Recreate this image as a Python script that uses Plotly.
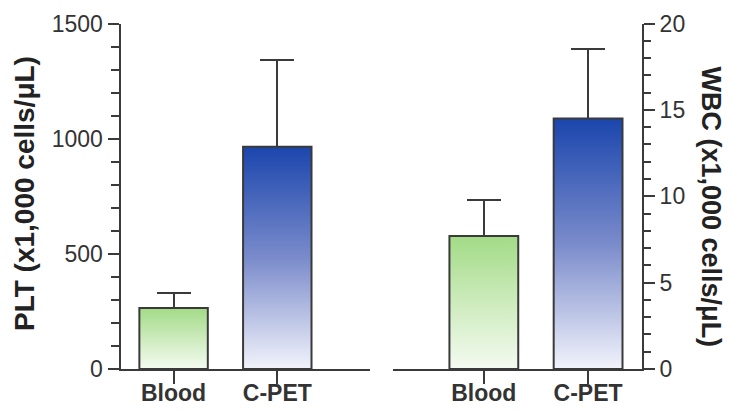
import plotly.graph_objects as go

categories = ["Blood", "C-PET"]
plt_mean = [265, 965]
plt_err = [65, 378]
wbc_mean = [7.7, 14.5]
wbc_err = [2.1, 4.0]
plt_ticks = [0, 500, 1000, 1500]
wbc_ticks = [0, 5, 10, 15, 20]

green_scale = [[0, "#f4fbf1"], [0.5, "#cdebbd"], [1, "#a2db86"]]
blue_scale = [[0, "#f2f3fb"], [0.5, "#7a8bcb"], [1, "#1b46ad"]]
scales = [green_scale, blue_scale]

BAR_W = 0.66
EDGE = "#3a3a3a"
FONT = "Liberation Sans, Arial, sans-serif"

# page body has an 8px margin: size the figure so it fits the 735x414 window
OFF = 8
W, H = 735 - 2 * OFF, 414 - 2 * OFF


def px(x):
    return (x - OFF) / W


def py(y):
    return 1 - (y - OFF) / H


fig = go.Figure()


def add_panel(means, errs, xa, ya):
    for i, (m, sc) in enumerate(zip(means, scales)):
        x0, x1 = i - BAR_W / 2, i + BAR_W / 2
        fig.add_trace(go.Scatter(
            x=[x0, x0, x1, x1, x0], y=[0, m, m, 0, 0],
            fill="toself", mode="lines",
            line=dict(color=EDGE, width=2),
            fillgradient=dict(type="vertical", colorscale=sc),
            xaxis=xa, yaxis=ya, showlegend=False, hoverinfo="skip"))
    fig.add_trace(go.Bar(
        x=list(range(len(categories))), y=means, width=BAR_W,
        marker=dict(color="rgba(0,0,0,0)", line=dict(width=0)),
        error_y=dict(type="data", array=errs, arrayminus=[0] * len(errs),
                     symmetric=False, color=EDGE, thickness=2, width=17),
        xaxis=xa, yaxis=ya, showlegend=False))


add_panel(plt_mean, plt_err, "x", "y")
add_panel(wbc_mean, wbc_err, "x2", "y2")

ydom = [py(369), py(23.5)]
axis_common = dict(showline=True, linecolor=EDGE, linewidth=2, showgrid=False,
                   zeroline=False, ticks="outside", tickwidth=2, tickcolor=EDGE,
                   automargin=False)

fig.update_layout(
    width=W, height=H,
    margin=dict(l=0, r=0, t=0, b=0, autoexpand=False),
    plot_bgcolor="white", paper_bgcolor="white",
    font=dict(family=FONT, color="#333333"),
    bargap=0,
    xaxis=dict(domain=[px(120.5), px(370)], range=[-0.512, 1.894],
               tickvals=[0, 1], ticktext=categories, ticklen=13,
               ticklabelstandoff=-11,
               tickfont=dict(size=23, weight="bold", color="#333333"),
               anchor="y", **axis_common),
    yaxis=dict(domain=ydom, range=[0, 1500], tickvals=plt_ticks, ticklen=11,
               minor=dict(dtick=100, ticklen=8, ticks="outside", tickwidth=2,
                          tickcolor=EDGE, showgrid=False),
               tickfont=dict(size=23, color="#333333"),
               anchor="x", **axis_common),
    xaxis2=dict(domain=[px(392.5), px(642)], range=[-0.876, 1.517],
                tickvals=[0, 1], ticktext=categories, ticklen=13,
                ticklabelstandoff=-11,
                tickfont=dict(size=23, weight="bold", color="#333333"),
                anchor="y2", **axis_common),
    yaxis2=dict(domain=ydom, range=[0, 20], tickvals=wbc_ticks, ticklen=11,
                side="right",
                minor=dict(dtick=1, ticklen=7, ticks="outside", tickwidth=2,
                           tickcolor=EDGE, showgrid=False),
                tickfont=dict(size=23, color="#333333"),
                anchor="x2", **axis_common),
    annotations=[
        dict(text="<b>PLT (x1,000 cells/μL)</b>", xref="paper", yref="paper",
             x=px(24), y=py(194), textangle=-90, showarrow=False,
             font=dict(size=28, color="#222222"), xanchor="center", yanchor="middle"),
        dict(text="<b>WBC (x1,000 cells/μL)</b>", xref="paper", yref="paper",
             x=1.0, y=py(206.5), textangle=90, showarrow=False, borderpad=0,
             font=dict(size=27, color="#222222"), xanchor="right", yanchor="middle"),
    ],
)

fig.write_html("out.html")
